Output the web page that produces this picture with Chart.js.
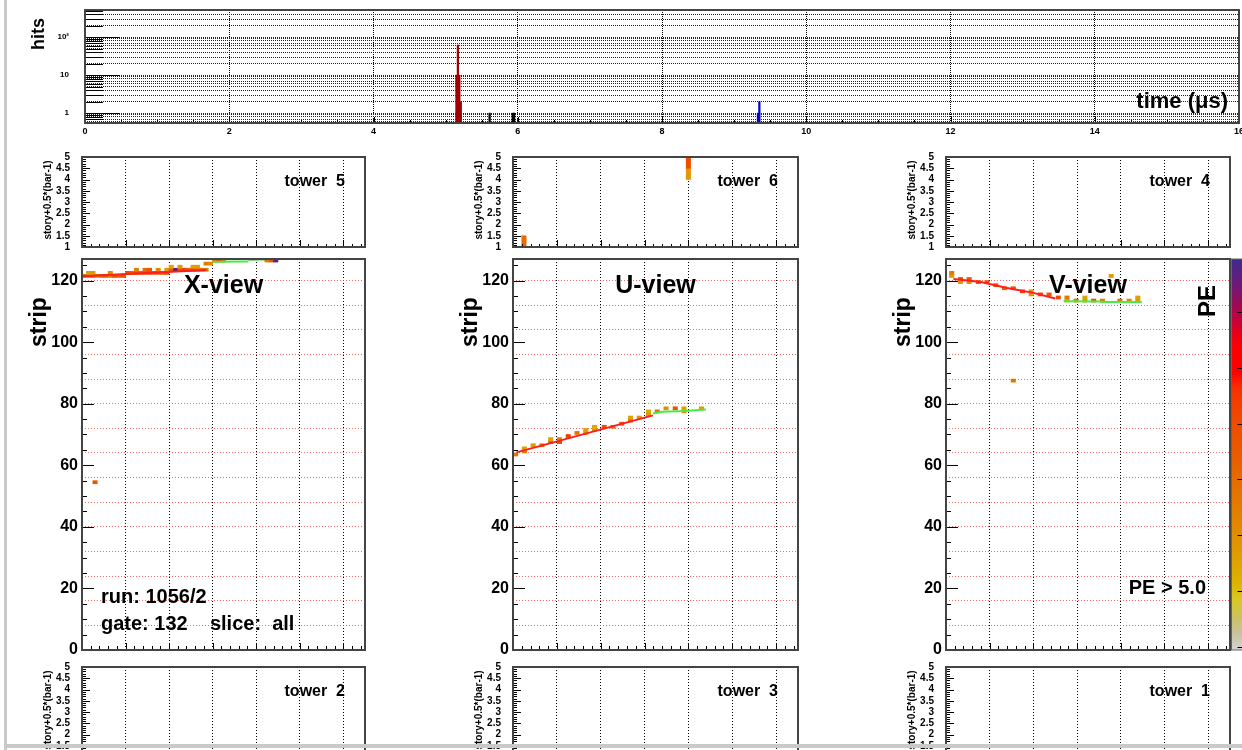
<!DOCTYPE html>
<html>
<head>
<meta charset="utf-8">
<title>event display</title>
<script src="https://cdn.jsdelivr.net/npm/chart.js@4.4.1/dist/chart.umd.min.js"></script>
<style>
  html, body { margin: 0; padding: 0; background: #fff; overflow: hidden; }
  #page { position: relative; width: 1242px; height: 750px; overflow: hidden; background: #fff; }
  #page canvas { position: absolute; }
  .edge { position: absolute; background: #c9c9c9; }
</style>
</head>
<body>
<div id="page"></div>
<script>
const FONT = '"Liberation Sans", Arial, Helvetica, sans-serif';

// timing histogram, 0.02 us bins
const timeRed = [5.15, 5.17, 5.19, 5.21];
const countRed = [10, 62, 10, 2];
const timeBlack = [5.61, 5.93, 5.95];
const countBlack = [1, 1, 1];
const timeBlue = [9.33, 9.35];
const countBlue = [1, 2];
const timeTicks = [0, 2, 4, 6, 8, 10, 12, 14, 16];

// X view hits: module, strip, PE
const xPlane = [0.5, 1.5, 2.5, 3.5, 4.5, 5.5, 6.5, 7.5, 8.5, 9.5,
  1.5, 2.5, 6.5,
  10.5, 11.5, 12.5, 13.5, 14.5, 15.5, 16.5, 17.5, 18.5, 19.5,
  12.5, 14.5, 15.5, 17.5, 19.5,
  20.5, 21.5, 22.5, 23.5, 24.5, 25.5, 26.5, 27.5, 28.5,
  20.5, 22.5, 25.5, 26.5,
  28.5, 29.5, 30.5, 31.5, 32.5, 42.5, 43.5, 44.5, 3];
const xStrip = [121, 121, 121, 121, 121, 121, 121, 121, 121, 121,
  122, 122, 122,
  122, 122, 122, 122, 122, 122, 122, 122, 122, 122,
  123, 123, 123, 123, 123,
  123, 123, 123, 123, 123, 123, 123, 123, 123,
  124, 124, 124, 124,
  125, 125, 126, 126, 126, 126, 126, 126, 54];
const xPe = [22, 18, 24, 17, 21, 23, 18, 25, 22, 24,
  13, 14, 15,
  25, 22, 27, 23, 26, 28, 22, 25, 24, 27,
  17, 20, 24, 16, 14,
  24, 39, 25, 27, 22, 26, 21, 18, 17,
  13, 14, 13, 14,
  18, 16, 23, 28, 19, 17, 23, 39, 24];

// U view hits
const uPlane = [0.6, 2.6, 2.6, 4.6, 6.6, 8.6, 8.6, 10.6, 10.6, 12.6, 14.6, 16.6, 16.6, 18.6, 18.6,
  20.8, 22.8, 24.8, 26.8, 26.8, 28.8, 30.9, 30.9, 32.9, 34.9, 37.0, 39.0, 39.0, 43.0];
const uStrip = [63, 64, 65, 66, 66, 67, 68, 67, 68, 69, 70, 70, 71, 71, 72,
  72, 72, 73, 74, 75, 75, 76, 77, 77, 78, 78, 77, 78, 78];
const uPe = [19, 18, 13, 14, 19, 20, 13, 25, 17, 27, 19, 15, 13, 14, 12,
  24, 19, 24, 20, 13, 14, 14, 12, 20, 15, 24, 15, 13, 14];

// V view hits
const vPlane = [1.3, 1.3, 3.3, 3.3, 5.3, 5.3, 7.4, 9.4, 11.4, 13.4, 15.4, 17.5, 19.5, 19.5, 21.6,
  23.6, 25.7, 27.7, 27.7, 29.8, 31.8, 31.8, 33.8, 35.8, 37.8, 39.8, 41.9, 43.9, 43.9, 15.4];
const vStrip = [121, 122, 120, 119, 120, 119, 119, 119, 118, 117, 117, 116, 115, 116, 115,
  115, 114, 114, 113, 113, 113, 114, 113, 113, 121, 113, 113, 113, 114, 87];
const vPe = [14, 18, 26, 14, 24, 15, 26, 25, 22, 21, 24, 26, 14, 15, 27,
  24, 26, 19, 14, 20, 15, 13, 26, 18, 14, 19, 16, 14, 13, 19];

// fitted tracks
const xTrackRed = { p: [0, 28.6], s: [121.4, 123.4] };
const xTrackGreen = { p: [30, 38.2], s: [126.1, 126.2] };
const xTrackDark = { p: [38.2, 42.5], s: [126.8, 126.9] };
const uTrackRed = { p: [0.8, 31.9], s: [64.2, 76.2] };
const uTrackGreen = { p: [31.9, 34, 39, 44], s: [76.8, 77.4, 77.6, 78.1] };
const vTrackRed = { p: [1.7, 8, 14, 20, 25], s: [120.5, 119.5, 117.6, 116, 114.2] };
const vTrackGreen = { p: [26.9, 35.5, 36, 44.8], s: [113.3, 113.2, 113.0, 113.0] };

// tower hits: module, story+0.5*(bar-1), PE
const tower6Plane = [2.5, 40, 40];
const tower6Story = [1, 4, 4.5];
const tower6Pe = [20, 14, 25];

const planeGrid = [0, 10, 20, 30, 40, 50, 60];
const stripLabels = [0, 20, 40, 60, 80, 100, 120];
const stripGrid = [0, 8, 16, 24, 32, 40, 48, 56, 64, 72, 80, 88, 96, 104, 112, 120];
const storyTicks = [1, 1.5, 2, 2.5, 3, 3.5, 4, 4.5, 5];
const peTicks = [10, 15, 20, 25, 30, 35];

const PLANE_MAX = 65, STRIP_MAX = 127, PE_MIN = 5, PE_MAX = 40;

const paletteStops = [0, 0.04, 0.085, 0.13, 0.17, 0.26, 0.34, 0.43, 0.51, 0.60, 0.67, 0.71, 0.77, 0.81, 0.85, 0.90, 0.94, 1];
const paletteColors = ['#d4d4d4', '#c9c3a2', '#cdc15e', '#d8c822', '#dcb400', '#e09800', '#e28200', '#e66c00', '#ea5a00',
  '#f04800', '#f83000', '#ff0000', '#ff0000', '#e80018', '#c00040', '#8c1060', '#6a1a7a', '#3c2a8c'];

function hexRgb(h) { const n = parseInt(h.slice(1), 16); return [n >> 16, (n >> 8) & 255, n & 255]; }
function paletteAt(f) {
  f = Math.min(1, Math.max(0, f));
  let i = 1;
  while (i < paletteStops.length - 1 && paletteStops[i] < f) i++;
  const f0 = paletteStops[i - 1], f1 = paletteStops[i];
  const t = f1 > f0 ? (f - f0) / (f1 - f0) : 0;
  const c0 = hexRgb(paletteColors[i - 1]), c1 = hexRgb(paletteColors[i]);
  return 'rgb(' + c0.map((v, k) => Math.round(v + (c1[k] - v) * t)).join(',') + ')';
}
const peColor = pe => paletteAt((pe - PE_MIN) / (PE_MAX - PE_MIN));

// log grid for hits axis: 1..9 x decade
const hitsGrid = [];
for (const d of [0.1, 1, 10, 100]) {
  for (let m = 1; m <= 9; m++) {
    const v = Number((m * d).toPrecision(2));
    if (v >= 0.55 && v <= 520) hitsGrid.push(v);
  }
}
const hitsLabel = v => (v === 1 ? '1' : v === 10 ? '10' : v === 100 ? '10\u00b2' : '');

// ROOT-like frame, inner ticks, palette and annotations
const rootStyle = {
  id: 'rootStyle',
  afterDraw(chart, args, o) {
    if (!o || !o.on) return;
    const { ctx, chartArea: a } = chart;
    const sx = chart.scales.x, sy = chart.scales.y;
    ctx.save();
    ctx.setLineDash([]);
    ctx.strokeStyle = '#000';
    ctx.lineWidth = 1;
    ctx.beginPath();
    if (o.xTicks) {
      const t = o.xTicks;
      const n = Math.round((sx.max - sx.min) / t.minor);
      for (let i = 0; i <= n; i++) {
        const v = sx.min + i * t.minor;
        const major = Math.abs(v / t.step - Math.round(v / t.step)) < 1e-6;
        const px = Math.round(sx.getPixelForValue(v)) + 0.5;
        ctx.moveTo(px, a.bottom);
        ctx.lineTo(px, a.bottom - (major ? t.long : t.short));
      }
    }
    if (o.yTicks) {
      const t = o.yTicks;
      const n = Math.round((sy.max - sy.min) / t.minor);
      for (let i = 0; i <= n; i++) {
        const v = sy.min + i * t.minor;
        const major = Math.abs(v / t.step - Math.round(v / t.step)) < 1e-6;
        const py = Math.round(sy.getPixelForValue(v)) + 0.5;
        ctx.moveTo(a.left, py);
        ctx.lineTo(a.left + (major ? t.long : t.short), py);
      }
    }
    if (o.yLog) {
      for (const tk of sy.ticks) {
        const lg = Math.log10(tk.value);
        const decade = Math.abs(lg - Math.round(lg)) < 1e-9;
        const py = Math.round(sy.getPixelForValue(tk.value)) + 0.5;
        ctx.moveTo(a.left, py);
        ctx.lineTo(a.left + (decade ? o.yLog.long : o.yLog.short), py);
      }
    }
    ctx.stroke();

    if (o.palette) {
      const x0 = a.right + 1.5;
      const g = ctx.createLinearGradient(0, a.bottom, 0, a.top);
      paletteStops.forEach((s, i) => g.addColorStop(s, paletteColors[i]));
      ctx.fillStyle = g;
      ctx.fillRect(x0, a.top, chart.width - x0, a.bottom - a.top);
      ctx.strokeStyle = '#666';
      ctx.strokeRect(x0, a.top, chart.width - x0 + 5, a.bottom - a.top);
      ctx.strokeStyle = '#000';
      ctx.beginPath();
      for (const pe of [PE_MIN, ...peTicks]) {
        const py = Math.round(a.bottom - (pe - PE_MIN) / (PE_MAX - PE_MIN) * (a.bottom - a.top)) - 2.5;
        ctx.moveTo(x0 + 6, py);
        ctx.lineTo(x0 + 14, py);
      }
      ctx.stroke();
    }

    ctx.lineWidth = 2;
    ctx.strokeStyle = '#444';
    const l = Math.round(a.left), tp = Math.round(a.top);
    ctx.strokeRect(l, tp, Math.round(a.right) - l, Math.round(a.bottom) - tp);

    for (const t of o.texts || []) {
      ctx.save();
      ctx.font = 'bold ' + t.size + 'px ' + FONT;
      ctx.fillStyle = '#000';
      const x = t.xc ? (a.left + a.right) / 2 : (t.xr !== undefined ? a.right - t.xr : a.left + t.x);
      const y = t.yb !== undefined ? a.bottom - t.yb : a.top + t.y;
      ctx.translate(x, y);
      if (t.rot) ctx.rotate(-Math.PI / 2);
      ctx.textAlign = t.align || 'center';
      ctx.textBaseline = 'middle';
      ctx.fillText(t.text, 0, 0);
      ctx.restore();
    }
    ctx.restore();
  }
};
Chart.register(rootStyle);

const page = document.getElementById('page');
function makeCanvas(left, top, w, h) {
  const c = document.createElement('canvas');
  c.width = w; c.height = h;
  c.style.left = left + 'px'; c.style.top = top + 'px';
  c.style.width = w + 'px'; c.style.height = h + 'px';
  page.appendChild(c);
  return c;
}
function fixBox(w, h) {
  return s => {
    if (w !== undefined) s.width = w;
    if (h !== undefined) s.height = h;
    s.paddingTop = 0; s.paddingBottom = 0; s.paddingLeft = 0; s.paddingRight = 0;
  };
}
function setTicks(values) { return s => { s.ticks = values.map(v => ({ value: v })); }; }
const common = { responsive: false, maintainAspectRatio: false, animation: false, devicePixelRatio: 1, events: [] };
const noLegend = { legend: { display: false }, tooltip: { enabled: false } };

// ---------- timing histogram ----------
function histSet(t, n, color) {
  return {
    data: t.map((v, i) => ({ x: v, y: n[i] })),
    backgroundColor: color, borderWidth: 0, barThickness: 1.6, grouped: false
  };
}
new Chart(makeCanvas(0, 0, 1250, 140), {
  type: 'bar',
  data: { datasets: [histSet(timeRed, countRed, '#a00000'), histSet(timeBlack, countBlack, '#000000'), histSet(timeBlue, countBlue, '#0000d0')] },
  options: {
    ...common,
    layout: { padding: { top: 10, right: 11, left: 0, bottom: 0 } },
    scales: {
      x: {
        type: 'linear', min: 0, max: 16, offset: false,
        afterBuildTicks: setTicks(timeTicks), afterFit: fixBox(undefined, 17),
        ticks: { autoSkip: false, maxRotation: 0, padding: 3, color: '#000', font: { family: FONT, size: 9, weight: 'bold' }, callback: v => String(v) },
        grid: { color: '#000', lineWidth: 1, drawTicks: false, offset: false },
        border: { display: false, dash: [1, 1] }
      },
      y: {
        type: 'logarithmic', min: 0.55, max: 520, beginAtZero: false,
        afterBuildTicks: setTicks(hitsGrid), afterFit: fixBox(85),
        ticks: { autoSkip: false, padding: 16, color: '#000', font: { family: FONT, size: 8, weight: 'bold' }, callback: v => hitsLabel(v) },
        grid: { color: '#222', lineWidth: 1, drawTicks: false },
        border: { display: false, dash: [1, 1] }
      }
    },
    plugins: {
      ...noLegend,
      rootStyle: {
        on: true,
        xTicks: { step: 2, minor: 0.5, long: 6, short: 3 },
        yLog: { long: 34, short: 18 },
        texts: [
          { text: 'hits', x: -46, y: 24, size: 18, rot: true },
          { text: 'time (\u03bcs)', xr: 11, y: 92, size: 22, align: 'right' }
        ]
      }
    }
  }
});

// ---------- panels ----------
const COL_LEFT = [82, 513, 946];
const COL_W = [283, 285, 284];
const AXW = 80;

function planeAxis(axH) {
  return {
    type: 'linear', position: 'bottom', min: 0, max: PLANE_MAX, offset: false,
    afterBuildTicks: setTicks(planeGrid), afterFit: fixBox(undefined, axH),
    ticks: { display: false },
    grid: { color: '#000', lineWidth: 1, drawTicks: false, offset: false },
    border: { display: false, dash: [1, 2] }
  };
}

function towerChart(col, top, name, plane, story, pe) {
  const padT = 8, axH = 8, h = 90, w = COL_W[col];
  const c = makeCanvas(COL_LEFT[col] - AXW, top - padT, AXW + w + 4, padT + h + axH);
  new Chart(c, {
    type: 'bar',
    data: { datasets: [{
      data: plane.map((p, i) => ({ x: p, y: [story[i], story[i] + 0.5] })),
      backgroundColor: pe.map(peColor), borderWidth: 0, barThickness: 4.4, grouped: false
    }] },
    options: {
      ...common,
      layout: { padding: { top: padT, right: 4, left: 0, bottom: 0 } },
      scales: {
        x: planeAxis(axH),
        y: {
          type: 'linear', position: 'left', min: 1, max: 5, beginAtZero: false,
          afterBuildTicks: setTicks(storyTicks), afterFit: fixBox(AXW),
          ticks: { autoSkip: false, padding: 4, color: '#000', font: { family: FONT, size: 10, weight: 'bold' }, callback: v => String(v) },
          grid: { display: false },
          border: { display: false }
        }
      },
      plugins: {
        ...noLegend,
        rootStyle: {
          on: true,
          xTicks: { step: 10, minor: 2, long: 7, short: 3 },
          yTicks: { step: 0.5, minor: 0.1, long: 8, short: 4 },
          texts: [
            { text: name, xr: 20, y: 25, size: 16, align: 'right' },
            { text: 'story+0.5*(bar-1)', x: -34, y: 43, size: 10, rot: true }
          ]
        }
      }
    }
  });
}

function viewChart(col, title, plane, strip, pe, tracks, extraTexts, palette) {
  const top = 259, h = 391, padT = 8, axH = 12, w = COL_W[col], padR = palette ? 24 : 4;
  const c = makeCanvas(COL_LEFT[col] - AXW, top - padT, AXW + w + padR, padT + h + axH);
  const datasets = tracks.map(t => ({
    type: 'line', data: t.p.map((p, i) => ({ x: p, y: t.s[i] })),
    borderColor: t.color, borderWidth: 2, pointRadius: 0, fill: false, tension: 0
  }));
  datasets.push({
    type: 'bar', data: plane.map((p, i) => ({ x: p, y: [strip[i], strip[i] + 1] })),
    backgroundColor: pe.map(peColor), borderWidth: 0, barThickness: 4.4, grouped: false
  });
  const stripTicks = [...new Set([...stripGrid, ...stripLabels])].sort((a, b) => a - b);
  new Chart(c, {
    type: 'bar',
    data: { datasets },
    options: {
      ...common,
      layout: { padding: { top: padT, right: padR, left: 0, bottom: 0 } },
      scales: {
        x: planeAxis(axH),
        y: {
          type: 'linear', position: 'left', min: 0, max: STRIP_MAX, beginAtZero: false,
          afterBuildTicks: setTicks(stripTicks), afterFit: fixBox(AXW),
          ticks: { autoSkip: false, padding: 4, color: '#000', font: { family: FONT, size: 16, weight: 'bold' },
            callback: v => (stripLabels.includes(v) ? String(v) : '') },
          grid: { drawTicks: false, lineWidth: 1,
            color: ctx => (stripGrid.includes(ctx.tick.value) ? 'rgba(226,80,80,0.85)' : 'rgba(0,0,0,0)') },
          border: { display: false, dash: [1, 2] }
        }
      },
      plugins: {
        ...noLegend,
        rootStyle: {
          on: true,
          palette,
          xTicks: { step: 10, minor: 2, long: 7, short: 4 },
          yTicks: { step: 20, minor: 5, long: 12, short: 5 },
          texts: [
            { text: title, xc: true, y: 27, size: 25 },
            { text: 'strip', x: -42, y: 63, size: 23, rot: true },
            ...extraTexts
          ]
        }
      }
    }
  });
}

const RED = '#ff1e1e', GREEN = '#44ee44', DKGREEN = '#00a000';

towerChart(0, 157, 'tower  5', [], [], []);
towerChart(1, 157, 'tower  6', tower6Plane, tower6Story, tower6Pe);
towerChart(2, 157, 'tower  4', [], [], []);

viewChart(0, 'X-view', xPlane, xStrip, xPe,
  [{ ...xTrackRed, color: RED }, { ...xTrackGreen, color: GREEN }, { ...xTrackDark, color: DKGREEN }],
  [{ text: 'run: 1056/2', x: 19, yb: 53, size: 20, align: 'left' },
   { text: 'gate: 132    slice:  all', x: 19, yb: 26, size: 20, align: 'left' }], false);
viewChart(1, 'U-view', uPlane, uStrip, uPe,
  [{ ...uTrackRed, color: RED }, { ...uTrackGreen, color: GREEN }], [], false);
viewChart(2, 'V-view', vPlane, vStrip, vPe,
  [{ ...vTrackRed, color: RED }, { ...vTrackGreen, color: GREEN }],
  [{ text: 'PE > 5.0', xr: 24, yb: 62, size: 20, align: 'right' },
   { text: 'PE', xr: 22, y: 42, size: 24, rot: true }], true);

towerChart(0, 667, 'tower  2', [], [], []);
towerChart(1, 667, 'tower  3', [], [], []);
towerChart(2, 667, 'tower  1', [], [], []);

// window edges
for (const [l, t, w, h] of [[4, 0, 3, 750], [4, 744, 1238, 4]]) {
  const d = document.createElement('div');
  d.className = 'edge';
  Object.assign(d.style, { left: l + 'px', top: t + 'px', width: w + 'px', height: h + 'px' });
  page.appendChild(d);
}
</script>
</body>
</html>
